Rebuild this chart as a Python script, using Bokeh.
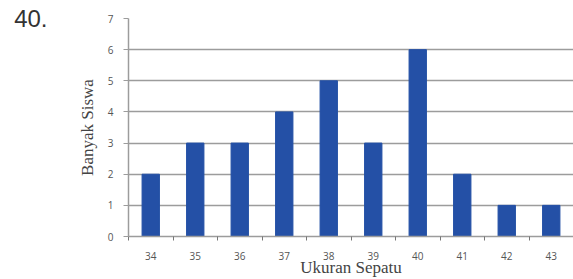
from bokeh.plotting import figure
from bokeh.models import FixedTicker, LinearAxis, Range1d
from bokeh.embed import file_html
from bokeh.resources import INLINE

sizes = [34, 35, 36, 37, 38, 39, 40, 41, 42, 43]
counts = [2, 3, 3, 4, 5, 3, 6, 2, 1, 1]
y_ticks = [0, 1, 2, 3, 4, 5, 6, 7]
boundaries = [s - 0.5 for s in sizes] + [sizes[-1] + 0.5]
question_number = "40."

p = figure(width=573, height=279, output_backend="svg", toolbar_location=None,
           x_range=Range1d(sizes[0] - 0.5, sizes[-1] + 0.5), y_range=Range1d(0, 7),
           min_border_left=128, min_border_right=0, min_border_top=18, min_border_bottom=41)
p.outline_line_color = None
p.background_fill_color = "white"

p.vbar(x=sizes, top=counts, width=0.39, color="#2450a6")

p.xaxis.ticker = FixedTicker(ticks=sizes, minor_ticks=boundaries)
p.yaxis.ticker = FixedTicker(ticks=y_ticks)
p.xgrid.visible = False
p.ygrid.grid_line_color = "#9c9c9c"
p.ygrid.grid_line_width = 1.6

for ax in (p.xaxis, p.yaxis):
    ax.axis_line_color = "#9c9c9c"
    ax.axis_line_width = 1.5
    ax.major_label_text_font = "Open Sans"
    ax.major_label_text_font_size = "10px"
    ax.major_label_text_color = "#555555"
    ax.axis_label_text_font = "Liberation Serif"
    ax.axis_label_text_font_style = "normal"
    ax.axis_label_text_font_size = "17px"
    ax.axis_label_text_color = "#444444"

p.xaxis.major_tick_line_color = None
p.xaxis.minor_tick_in = 0
p.xaxis.minor_tick_out = 4
p.xaxis.minor_tick_line_color = "#777777"
p.xaxis.major_label_standoff = 9
p.xaxis.axis_label = "Ukuran Sepatu"
p.xaxis.axis_label_standoff = -5

p.yaxis.major_tick_in = 0
p.yaxis.major_tick_out = 5
p.yaxis.major_tick_line_color = "#9c9c9c"
p.yaxis.minor_tick_line_color = None
p.yaxis.major_label_standoff = 10
p.yaxis.axis_label = "Banyak Siswa"
p.yaxis.axis_label_standoff = 8

# question number drawn as a tick label of an invisible extra axis
p.extra_y_ranges = {"num": Range1d(0, 1)}
num_axis = LinearAxis(y_range_name="num", ticker=FixedTicker(ticks=[1]),
                      major_label_overrides={1: question_number})
num_axis.axis_line_color = None
num_axis.major_tick_line_color = None
num_axis.minor_tick_line_color = None
num_axis.major_label_standoff = 21
num_axis.major_label_text_font = "Liberation Sans"
num_axis.major_label_text_font_size = "24px"
num_axis.major_label_text_color = "#333333"
p.add_layout(num_axis, "left")

open("out.html", "w").write(file_html(p, INLINE))
